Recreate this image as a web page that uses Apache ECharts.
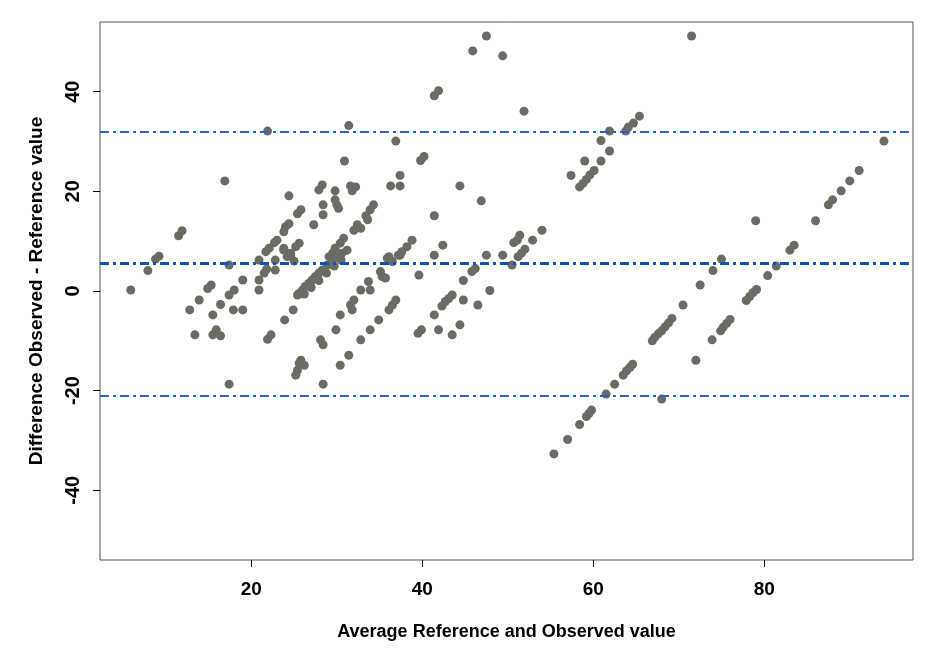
<!DOCTYPE html>
<html><head><meta charset="utf-8">
<script src="https://cdn.jsdelivr.net/npm/echarts@6/dist/echarts.min.js"></script>
<style>html,body{margin:0;padding:0;background:#fff}#c{width:940px;height:660px}</style>
</head><body><div id="c"></div>
<script>
// [average, difference] pairs
const leftPoints = [
  [5.9,0.2],[7.9,4.1],[8.8,6.4],[9.2,7.0],[11.5,11.1],[11.9,12.1],
  [12.8,-3.8],[13.4,-8.8],[13.9,-1.8],[14.9,0.5],[15.3,1.2],[15.5,-4.8],[15.5,-8.8],[15.9,-7.8],[16.4,-9.0],[16.4,-2.7],
  [16.9,22.1],[17.4,5.2],[17.4,-0.8],[18.0,0.2],[17.9,-3.8],[19.0,-3.8],[19.0,2.2],[17.4,-18.7],
  [20.9,6.2],[21.8,4.4],[21.5,3.6],[20.9,2.2],[20.9,0.2],[22.8,4.2],[22.8,6.2],[21.7,7.9],[22.1,8.6],[22.7,9.7],[23.0,10.2],
  [23.8,8.2],[24.6,7.6],[25.0,6.0],[24.6,7.2],
  [21.9,32.1],[24.4,19.1],[25.4,15.5],[25.8,16.3],[24.0,12.9],[24.4,13.5],[23.8,11.9],[25.2,8.9],[25.6,9.6],[23.8,8.6],[24.2,6.9],
  [25.4,-0.8],[24.9,-3.8],[23.9,-5.8],[22.3,-8.8],[21.9,-9.7],
  [25.8,-13.9],[25.6,-14.5],[26.2,-14.9],[25.4,-15.9],[25.2,-16.9]
];
const midPoints = [
  [31.4,33.2],[36.9,30.1],[30.9,26.1],[40.2,27.0],[39.8,26.2],[37.4,23.2],[36.3,21.1],[37.4,21.1],[31.6,21.1],[32.2,20.9],
  [31.8,20.1],[29.8,20.1],[28.3,21.3],[27.9,20.3],[29.8,18.3],[30.0,17.3],[30.2,16.6],[28.4,17.3],[28.4,15.3],[34.3,17.3],
  [33.9,16.3],[33.4,15.1],[33.6,14.3],[32.4,13.3],[32.8,12.6],[32.0,12.2],[27.3,13.3],[30.8,10.6],[30.4,9.6],[29.8,8.6],
  [29.5,7.6],[29.1,6.9],[38.8,10.2],[38.2,8.9],[37.4,7.2],[35.9,6.6],
  [25.6,-0.5],[26.0,0.2],[26.3,0.9],[26.7,1.5],[27.1,2.2],[27.5,2.9],[27.9,3.6],[28.3,4.2],[28.9,5.2],[29.5,6.2],
  [30.0,6.9],[30.6,7.6],[31.2,8.2],
  [26.2,-0.6],[27.0,0.7],[27.9,2.1],[28.8,3.6],[29.7,5.0],[30.5,6.2],
  [30.4,-4.8],[29.9,-7.8],[28.1,-9.8],[28.4,-10.8],[28.4,-18.7],[30.4,-14.9],[31.4,-12.9],[32.8,-9.8],[33.9,-7.8],[34.9,-5.8],
  [36.1,-3.8],[36.5,-2.8],[36.9,-1.8],[31.8,-3.8],[31.6,-2.8],[32.0,-1.8],[32.8,0.2],[33.9,0.2],[33.7,1.9],[35.1,3.9],
  [35.3,2.9],[35.7,2.6],[36.1,6.9],[36.5,5.9],[37.2,7.2],[37.6,7.9],[39.6,3.2],[39.9,-7.8],[39.5,-8.5]
];
const rightPoints = [
  [47.5,51.2],[45.9,48.2],[49.4,47.2],[41.9,40.2],[41.4,39.2],[51.9,36.1],[44.4,21.1],[46.9,18.1],[41.4,15.1],[42.4,9.2],
  [41.4,7.2],[47.5,7.2],[49.4,7.2],[51.4,11.2],[51.1,10.2],[50.7,9.7],[52.9,10.2],[54.0,12.2],[52.0,8.4],[51.6,7.6],
  [51.2,6.9],[50.5,5.2],[46.2,4.5],[45.8,3.9],[44.8,2.1],[47.9,0.1],[43.5,-0.8],[43.1,-1.5],[42.7,-2.1],[42.3,-3.0],
  [44.8,-1.8],[46.5,-2.8],[41.4,-4.8],[41.9,-7.8],[43.5,-8.8],[44.4,-6.8]
];
const farPoints = [
  [65.4,35.1],[64.7,33.7],[64.1,32.9],[63.8,32.1],[61.9,32.1],[60.9,30.2],[61.9,28.1],[60.9,26.1],[59.0,26.1],[57.4,23.2],
  [60.1,24.2],[59.6,23.3],[59.2,22.4],[58.8,21.6],[58.4,20.9],
  [69.2,-5.5],[68.8,-6.4],[68.4,-7.2],[68.0,-8.0],[67.6,-8.6],[67.2,-9.3],[66.9,-10.0],[64.6,-14.7],[64.3,-15.3],[63.9,-16.0],
  [63.5,-16.9],[62.5,-18.7],[61.5,-20.7],[68.0,-21.7],[59.8,-23.9],[59.5,-24.6],[59.2,-25.2],[58.4,-26.8],[57.0,-29.8],[55.4,-32.7],
  [71.5,51.2],[94.0,30.1],[91.1,24.2],[90.0,22.1],[89.0,20.1],[88.0,18.3],[87.5,17.3],[86.0,14.1],[79.0,14.1],[83.5,9.2],
  [83.0,8.2],[81.4,5.0],[80.4,3.1],[79.1,0.3],[78.7,-0.3],[78.3,-1.1],[77.9,-1.9],[76.0,-5.7],[75.6,-6.5],[75.2,-7.3],
  [74.9,-8.0],[73.9,-9.8],[72.0,-13.9],[75.0,6.4],[74.0,4.1],[72.5,1.2],[70.5,-2.8]
];
const upperLimit = 32;
const meanDiff = 5.5;
const lowerLimit = -21;
const xTicks = [20, 40, 60, 80];
const yTicks = [-40, -20, 0, 20, 40];

const allPoints = leftPoints.concat(midPoints, rightPoints, farPoints);
const chart = echarts.init(document.getElementById('c'), null, {renderer: 'canvas'});
const font = 'Liberation Sans, Arial, sans-serif';
chart.setOption({
  animation: false,
  backgroundColor: '#fff',
  grid: {left: 100, right: 27, top: 22, bottom: 100, show: true, borderColor: '#555', borderWidth: 1, backgroundColor: 'transparent'},
  xAxis: {
    type: 'value', min: 2.3, max: 97.4,
    name: 'Average Reference and Observed value', nameLocation: 'middle', nameGap: 63,
    nameTextStyle: {fontFamily: font, fontSize: 18, fontWeight: 'bold', color: '#000'},
    axisLine: {show: false, onZero: false},
    axisTick: {show: true, length: 7, lineStyle: {color: '#000'}, customValues: xTicks},
    axisLabel: {fontFamily: font, fontSize: 19, fontWeight: 'bold', color: '#000', margin: 20, customValues: xTicks},
    splitLine: {show: false}
  },
  yAxis: {
    type: 'value', min: -54, max: 54,
    name: 'Difference Observed - Reference value', nameLocation: 'middle', nameGap: 54,
    nameTextStyle: {fontFamily: font, fontSize: 19, fontWeight: 'bold', color: '#000'},
    axisLine: {show: false, onZero: false},
    axisTick: {show: true, length: 7, lineStyle: {color: '#000'}, customValues: yTicks},
    axisLabel: {fontFamily: font, fontSize: 20, fontWeight: 'bold', color: '#000', margin: 17, rotate: 90, customValues: yTicks},
    splitLine: {show: false}
  },
  series: [{
    type: 'scatter',
    data: allPoints,
    symbol: 'circle',
    symbolSize: 9,
    itemStyle: {color: '#6a6b63', opacity: 1},
    markLine: {
      silent: true, symbol: 'none', label: {show: false},
      data: [
        {yAxis: upperLimit, lineStyle: {color: '#2463c9', width: 2, type: [9, 4, 3, 4]}},
        {yAxis: meanDiff, lineStyle: {color: '#1150bf', width: 3, type: [9, 4, 3, 4]}},
        {yAxis: lowerLimit, lineStyle: {color: '#2463c9', width: 2, type: [9, 4, 3, 4]}}
      ]
    },
    z: 3
  }]
});
</script></body></html>
